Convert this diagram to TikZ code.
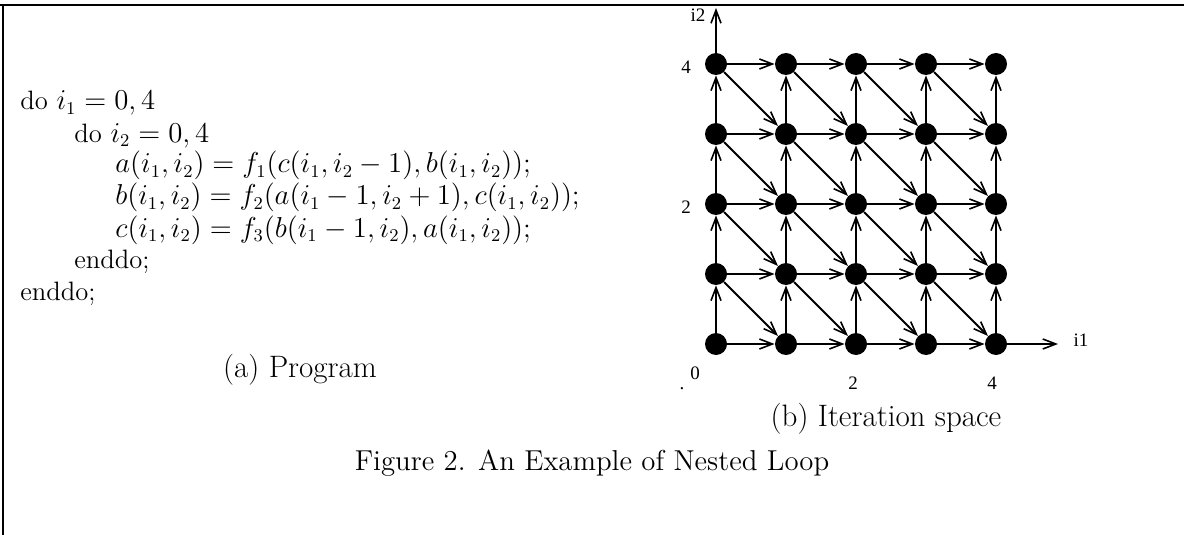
\documentclass[tikz,border=0pt]{standalone}
\usepackage{fontspec}
\newfontfamily\timesf{Liberation Serif}
\usetikzlibrary{arrows.meta}
\begin{document}
\begin{tikzpicture}[x=0.5pt,y=-0.5pt,
  dot/.style={circle,fill=black,inner sep=0pt,minimum size=11pt},
  arr/.style={line width=0.9pt,-{Straight Barb[length=6.5pt,width=5pt,line width=0.8pt]}},
  frame/.style={line width=1.2pt},
  code/.style={anchor=base west,inner sep=0pt,font=\fontsize{13.3}{16}\selectfont},
  subcap/.style={inner sep=0pt,font=\fontsize{15.5}{18}\selectfont},
  captxt/.style={inner sep=0pt,font=\fontsize{14.4}{17}\selectfont},
  axl/.style={inner sep=0pt,font=\timesf\fontsize{9.5}{11}\selectfont}]
\useasboundingbox (0,0) rectangle (1184,535);
\draw[frame] (0,5) -- (1184,5);
\draw[frame] (3,5) -- (3,535);
% program text
\node[code] (l1) at (20,110) {do $i_1=0,4$};
\node[code] (l2) at (74,142) {do $i_2=0,4$};
\node[code] (l3) at (115,173) {$a(i_1,i_2)=f_1(c(i_1,i_2-1),b(i_1,i_2));$};
\node[code] (l4) at (115,205) {$b(i_1,i_2)=f_2(a(i_1-1,i_2+1),c(i_1,i_2));$};
\node[code] (l5) at (115,237) {$c(i_1,i_2)=f_3(b(i_1-1,i_2),a(i_1,i_2));$};
\node[code] (l6) at (74,268) {enddo;};
\node[code] (l7) at (20,300) {enddo;};
\node[subcap] (capa) at (300,370) {(a) Program};
\node[subcap] (capb) at (886,419) {(b) Iteration space};
\node[captxt] (fig) at (592,463) {Figure 2. An Example of Nested Loop};
% grid
\foreach \i in {0,...,4}
  \foreach \j in {0,...,4}
    \node[dot] (n\i\j) at ({716+70*\i},{344-70*\j}) {};
\foreach \i in {0,...,3}
  \foreach \j in {0,...,4} {
    \pgfmathtruncatemacro{\k}{\i+1}
    \draw[arr] (n\i\j) -- (n\k\j);
  }
\foreach \i in {0,...,4}
  \foreach \j in {0,...,3} {
    \pgfmathtruncatemacro{\l}{\j+1}
    \draw[arr] (n\i\j) -- (n\i\l);
  }
\foreach \i in {0,...,3}
  \foreach \j in {1,...,4} {
    \pgfmathtruncatemacro{\k}{\i+1}
    \pgfmathtruncatemacro{\m}{\j-1}
    \draw[arr] (n\i\j) -- (n\k\m);
  }
% axes
\coordinate (i2tip) at (716,8);
\coordinate (i1tip) at (1058,344);
\draw[arr] (n04) -- (i2tip);
\draw[arr] (n40) -- (i1tip);
\node[axl] (li2) at (698,15) {i2};
\node[axl] (li1) at (1081,340) {i1};
\node[axl] (y4) at (686,67) {4};
\node[axl] (y2) at (686,207) {2};
\node[axl] (x0) at (695,373) {0};
\node[axl] (xdot) at (682,389) {.};
\node[axl] (x2) at (853,383) {2};
\node[axl] (x4) at (992,383) {4};
\end{tikzpicture}
\end{document}
